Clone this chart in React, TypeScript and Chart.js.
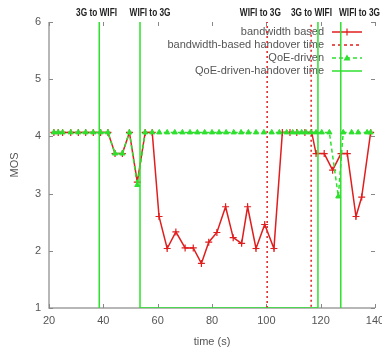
import React, { useEffect, useRef } from "react";
import { Chart, registerables } from "chart.js";
Chart.register(...registerables);

const xTicks = [20, 40, 60, 80, 100, 120, 140];
const yTicks = [1, 2, 3, 4, 5, 6];

const bwTime = [21.8, 23.4, 25.0, 28.0, 30.8, 33.5, 36.3, 39.0, 41.7, 44.3, 47.0, 49.6, 52.5, 55.4, 58.0, 60.5, 63.5, 66.7, 70.1, 73.1, 76.1, 78.8, 81.8, 85.0, 87.8, 90.9, 93.1, 96.2, 99.4, 102.8, 105.9, 108.7, 111.2, 114.2, 116.7, 118.3, 121.3, 124.4, 127.5, 129.8, 133.0, 135.1, 138.4];
const bwMos = [4.07, 4.07, 4.07, 4.07, 4.07, 4.07, 4.07, 4.07, 4.07, 3.70, 3.70, 4.07, 3.20, 4.07, 4.07, 2.60, 2.04, 2.33, 2.05, 2.05, 1.78, 2.15, 2.32, 2.77, 2.23, 2.13, 2.77, 2.04, 2.46, 2.04, 4.07, 4.07, 4.07, 4.07, 4.07, 3.70, 3.70, 3.41, 3.70, 3.70, 2.60, 2.94, 4.07];

const qoeTime = [21.8, 23.4, 25.0, 28.0, 30.8, 33.5, 36.3, 39.0, 41.7, 44.3, 47.0, 49.6, 52.5, 55.4, 58.0, 60.6, 63.5, 66.3, 69.1, 71.9, 74.6, 77.3, 80.0, 82.6, 85.2, 88.0, 90.7, 93.4, 96.2, 99.1, 102.0, 104.8, 107.5, 109.7, 111.4, 113.0, 114.6, 116.4, 118.3, 120.4, 123.2, 126.5, 128.3, 131.4, 133.8, 137.1, 138.4];
const qoeMos = [4.07, 4.07, 4.07, 4.07, 4.07, 4.07, 4.07, 4.07, 4.07, 3.70, 3.70, 4.07, 3.15, 4.07, 4.07, 4.07, 4.07, 4.07, 4.07, 4.07, 4.07, 4.07, 4.07, 4.07, 4.07, 4.07, 4.07, 4.07, 4.07, 4.07, 4.07, 4.07, 4.07, 4.07, 4.07, 4.07, 4.07, 4.07, 4.07, 4.07, 4.07, 2.95, 4.07, 4.07, 4.07, 4.07, 4.07];

const bwHandoverTime = [100.3, 100.3, 116.5, 116.5];
const bwHandoverMos = [1, 6.5, 6.5, 1];
const qoeHandoverTime = [38.5, 38.5, 53.5, 53.5, 119.0, 119.0, 127.4, 127.4];
const qoeHandoverMos = [1, 6.5, 6.5, 1, 1, 6.5, 6.5, 1];

const eventLabels = ["3G to WIFI", "WIFI to 3G", "WIFI to 3G", "3G to WIFI", "WIFI to 3G"];
const eventTimes = [37.5, 57.2, 97.8, 116.6, 134.3];

const seriesLabels = ["bandwidth based", "bandwidth-based handover time", "QoE-driven", "QoE-driven-handover time"];

const RED = "#e01e1e";
const GREEN = "#2ee02e";
const TEXT = "#555555";
const FONT = "Liberation Sans";

const zip = (xs: number[], ys: number[]) => xs.map((x, i) => ({ x, y: ys[i] }));

const framePlugin = {
  id: "frame",
  beforeDatasetsDraw(chart: any) {
    const { ctx, chartArea: a, scales } = chart;
    ctx.save();
    ctx.strokeStyle = "#a0a0a0";
    ctx.lineWidth = 1.5;
    ctx.beginPath();
    ctx.moveTo(a.left, a.top);
    ctx.lineTo(a.left, a.bottom);
    ctx.lineTo(a.right, a.bottom);
    ctx.stroke();
    ctx.strokeStyle = "#888";
    ctx.lineWidth = 1;
    ctx.beginPath();
    xTicks.forEach((v) => {
      const px = Math.round(scales.x.getPixelForValue(v)) + 0.5;
      ctx.moveTo(px, a.bottom);
      ctx.lineTo(px, a.bottom - 4);
      ctx.moveTo(px, a.top);
      ctx.lineTo(px, a.top + 4);
    });
    yTicks.forEach((v) => {
      const py = Math.round(scales.y.getPixelForValue(v)) + 0.5;
      ctx.moveTo(a.left, py);
      ctx.lineTo(a.left + 4, py);
      ctx.moveTo(a.right, py);
      ctx.lineTo(a.right - 4, py);
    });
    ctx.stroke();

    // legend
    const rows = [32, 45, 58, 71];
    const textRight = 324;
    const x0 = 332, x1 = 362, xc = 347;
    ctx.font = `11px "${FONT}"`;
    ctx.fillStyle = TEXT;
    ctx.textAlign = "right";
    ctx.textBaseline = "middle";
    seriesLabels.forEach((t, i) => ctx.fillText(t, textRight, rows[i]));
    const line = (y: number, color: string, dash: number[]) => {
      ctx.strokeStyle = color;
      ctx.lineWidth = 1.5;
      ctx.setLineDash(dash);
      ctx.beginPath();
      ctx.moveTo(x0, y);
      ctx.lineTo(x1, y);
      ctx.stroke();
      ctx.setLineDash([]);
    };
    line(rows[0], RED, []);
    ctx.strokeStyle = RED;
    ctx.lineWidth = 1.2;
    ctx.beginPath();
    ctx.moveTo(xc, rows[0] - 3.5);
    ctx.lineTo(xc, rows[0] + 3.5);
    ctx.stroke();
    line(rows[1], RED, [3, 3]);
    line(rows[2], GREEN, [4, 3]);
    ctx.fillStyle = GREEN;
    ctx.beginPath();
    ctx.moveTo(xc, rows[2] - 3.5);
    ctx.lineTo(xc + 3.5, rows[2] + 2.5);
    ctx.lineTo(xc - 3.5, rows[2] + 2.5);
    ctx.closePath();
    ctx.fill();
    line(rows[3], GREEN, []);
    ctx.restore();
  },
  afterDraw(chart: any) {
    const { ctx, scales } = chart;
    ctx.save();
    ctx.font = `bold 10px "${FONT}"`;
    ctx.fillStyle = "#222";
    ctx.textAlign = "center";
    ctx.textBaseline = "middle";
    eventLabels.forEach((t, i) => {
      const w = ctx.measureText(t).width;
      const sx = 41 / w;
      ctx.save();
      ctx.translate(scales.x.getPixelForValue(eventTimes[i]), 13);
      ctx.scale(sx, 1);
      ctx.fillText(t, 0, 0);
      ctx.restore();
    });
    ctx.restore();
  },
};

export default function App() {
  const ref = useRef<HTMLCanvasElement | null>(null);
  useEffect(() => {
    document.body.style.margin = "0";
    const canvas = ref.current!;
    const font = { family: FONT, size: 11 };
    const chart = new Chart(canvas, {
      type: "line",
      data: {
        datasets: [
          {
            label: seriesLabels[0],
            data: zip(bwTime, bwMos),
            borderColor: RED,
            borderWidth: 1.5,
            pointStyle: "cross",
            pointRadius: 3.5,
            pointBorderColor: RED,
            pointBorderWidth: 1.2,
            tension: 0,
            order: 4,
          },
          {
            label: seriesLabels[1],
            data: zip(bwHandoverTime, bwHandoverMos),
            borderColor: RED,
            borderWidth: 1.5,
            borderDash: [2, 3],
            pointRadius: 0,
            tension: 0,
            order: 3,
          },
          {
            label: seriesLabels[2],
            data: zip(qoeTime, qoeMos),
            borderColor: GREEN,
            borderWidth: 1.5,
            borderDash: [4, 3],
            pointStyle: "triangle",
            pointRadius: 3,
            pointBackgroundColor: GREEN,
            pointBorderColor: GREEN,
            pointBorderWidth: 1,
            tension: 0,
            order: 2,
          },
          {
            label: seriesLabels[3],
            data: zip(qoeHandoverTime, qoeHandoverMos),
            borderColor: GREEN,
            borderWidth: 1.5,
            pointRadius: 0,
            tension: 0,
            order: 1,
          },
        ],
      },
      options: {
        responsive: false,
        animation: false,
        devicePixelRatio: 1,
        layout: { padding: { top: 22, right: 7, left: 0, bottom: 0 } },
        plugins: { legend: { display: false }, tooltip: { enabled: false } },
        scales: {
          x: {
            type: "linear",
            min: 20,
            max: 140,
            afterBuildTicks: (s: any) => {
              s.ticks = xTicks.map((v) => ({ value: v }));
            },
            ticks: { padding: 6, color: TEXT, font, maxRotation: 0 },
            grid: { display: false, drawTicks: false },
            border: { display: false },
            title: { display: true, text: "time (s)", color: TEXT, font, padding: { top: 1, bottom: 0 } },
            afterFit: (s: any) => {
              s.height = 41;
              s.paddingLeft = 0;
              s.paddingRight = 0;
            },
          },
          y: {
            type: "linear",
            min: 1,
            max: 6,
            afterBuildTicks: (s: any) => {
              s.ticks = yTicks.map((v) => ({ value: v }));
            },
            ticks: { padding: 8, color: TEXT, font },
            grid: { display: false, drawTicks: false },
            border: { display: false },
            title: { display: true, text: "MOS", color: TEXT, font, padding: { top: 8, bottom: 0 } },
            afterFit: (s: any) => {
              s.width = 49;
              s.paddingTop = 0;
              s.paddingBottom = 0;
            },
          },
        },
      },
      plugins: [framePlugin],
    } as any);
    return () => chart.destroy();
  }, []);
  return <canvas ref={ref} width={382} height={349} style={{ display: "block" }} />;
}
